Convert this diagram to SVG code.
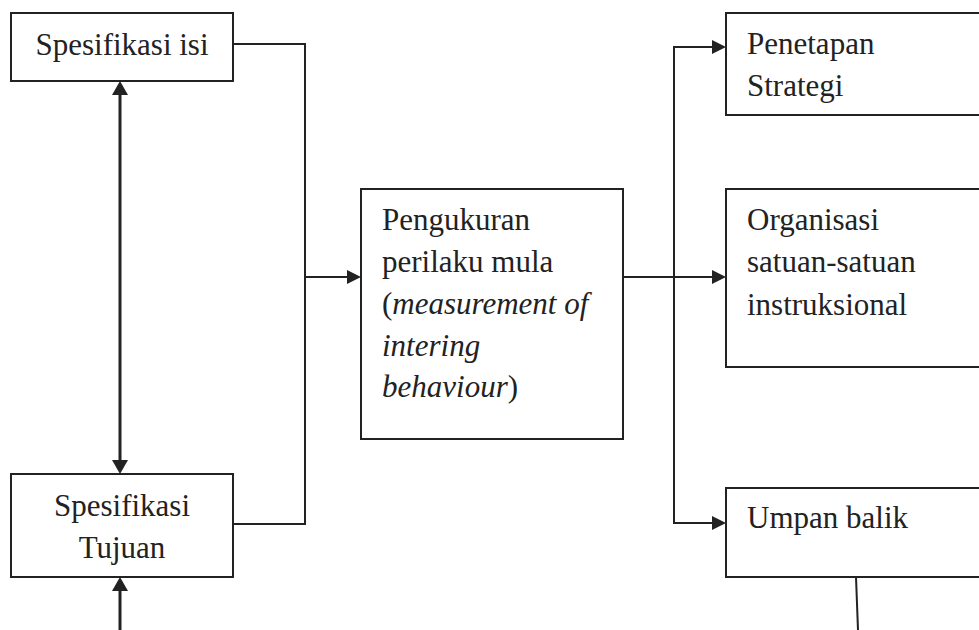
<svg xmlns="http://www.w3.org/2000/svg" width="979" height="630" viewBox="0 0 979 630">
<defs>
<style>
.box{fill:#fff;stroke:#222;stroke-width:2}
.t{font-family:"Liberation Serif","Times New Roman",serif;font-size:31px;fill:#222}
.c{fill:none;stroke:#222;stroke-width:2}
.ca{fill:none;stroke:#222;stroke-width:3}
.ah{fill:#222}
</style>
</defs>
<rect width="979" height="630" fill="#fff"/>
<g id="connectors">
<polyline class="c" points="233,44 305,44 305,524 233,524"/>
<line class="c" x1="305" y1="277" x2="347" y2="277"/>
<path class="ah" d="M347,270 L361,277 L347,284 z"/>
<line class="ca" x1="120" y1="95" x2="120" y2="460"/>
<path class="ah" d="M112,95 L120,81 L128,95 z"/>
<path class="ah" d="M112,460 L120,474 L128,460 z"/>
<line class="ca" x1="120" y1="591" x2="120" y2="630"/>
<path class="ah" d="M112,591 L120,577 L128,591 z"/>
<line class="c" x1="623" y1="277" x2="712" y2="277"/>
<path class="ah" d="M712,270 L726,277 L712,284 z"/>
<polyline class="c" points="712,47 674,47 674,523 712,523"/>
<path class="ah" d="M712,40 L726,47 L712,54 z"/>
<path class="ah" d="M712,516 L726,523 L712,530 z"/>
<line class="c" x1="856" y1="577" x2="858" y2="630"/>
</g>
<g id="spesifikasi-isi">
<rect class="box" x="11" y="13" width="222" height="68"/>
<text class="t" x="122" y="55" text-anchor="middle">Spesifikasi isi</text>
</g>
<g id="spesifikasi-tujuan">
<rect class="box" x="11" y="474" width="222" height="103"/>
<text class="t" x="122" y="516" text-anchor="middle">Spesifikasi</text>
<text class="t" x="122" y="558" text-anchor="middle">Tujuan</text>
</g>
<g id="pengukuran">
<rect class="box" x="361" y="189" width="262" height="250"/>
<text class="t" x="382" y="230">Pengukuran</text>
<text class="t" x="382" y="272">perilaku mula</text>
<text class="t" x="382" y="314">(<tspan font-style="italic">measurement of</tspan></text>
<text class="t" x="382" y="356" font-style="italic">intering</text>
<text class="t" x="382" y="397"><tspan font-style="italic">behaviour</tspan>)</text>
</g>
<g id="penetapan">
<rect class="box" x="726" y="13" width="260" height="102"/>
<text class="t" x="747" y="54">Penetapan</text>
<text class="t" x="747" y="96">Strategi</text>
</g>
<g id="organisasi">
<rect class="box" x="726" y="189" width="260" height="178"/>
<text class="t" x="747" y="230">Organisasi</text>
<text class="t" x="747" y="272">satuan-satuan</text>
<text class="t" x="747" y="315">instruksional</text>
</g>
<g id="umpan-balik">
<rect class="box" x="726" y="488" width="260" height="89"/>
<text class="t" x="747" y="528">Umpan balik</text>
</g>
</svg>
